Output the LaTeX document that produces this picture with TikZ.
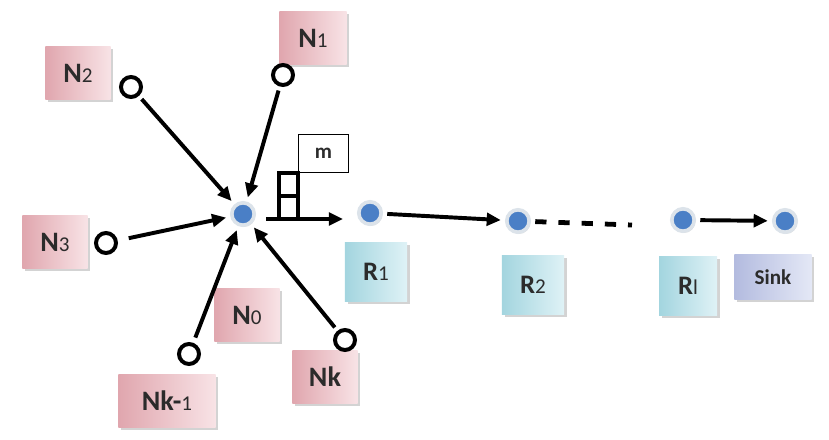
\documentclass[tikz,border=0pt]{standalone}
\usepackage{fontspec}
\setmainfont{Carlito}
\usetikzlibrary{arrows.meta, shadows}
\definecolor{pinkdark}{HTML}{E0A6AE}
\definecolor{pinklight}{HTML}{F8E3E6}
\definecolor{cyandark}{HTML}{A3D5DF}
\definecolor{cyanlight}{HTML}{DFF2F6}
\definecolor{lavdark}{HTML}{B3BBDF}
\definecolor{lavlight}{HTML}{E4E8F6}
\definecolor{dotblue}{HTML}{4A7FC6}
\definecolor{halo}{HTML}{DCE3EA}
\definecolor{ink}{HTML}{2B2B2B}
\newcommand{\idx}[1]{{\fontsize{15}{15}\selectfont\mdseries #1}}

\begin{document}
\begin{tikzpicture}[x=0.025cm,y=-0.025cm,
  nbox/.style={rectangle,minimum width=1.63cm,minimum height=1.33cm,inner sep=0pt,
    left color=pinkdark,right color=pinklight,text=ink,font=\fontsize{20}{22}\selectfont\bfseries,
    drop shadow={shadow xshift=2pt,shadow yshift=-2pt,opacity=0.35}},
  rbox/.style={nbox,left color=cyandark,right color=cyanlight,minimum width=1.55cm,minimum height=1.48cm,
    font=\fontsize{19}{21}\selectfont\bfseries},
  sbox/.style={nbox,left color=lavdark,right color=lavlight,minimum width=1.93cm,minimum height=1.13cm,
    font=\fontsize{15}{17}\selectfont\bfseries},
  src/.style={circle,draw=black,line width=2.8pt,fill=white,minimum size=0.5cm,inner sep=0pt},
  dot/.style={circle,fill=dotblue,draw=halo,line width=2.6pt,minimum size=0.56cm,inner sep=0pt,
    drop shadow={shadow xshift=0.8pt,shadow yshift=-1.2pt,opacity=0.3}},
  cell/.style={rectangle,draw=black,line width=2.8pt,minimum width=0.475cm,minimum height=0.575cm,
    inner sep=0pt,outer sep=0pt},
  mbox/.style={rectangle,draw=black,line width=0.7pt,minimum width=1.25cm,minimum height=0.95cm,
    font=\fontsize{15}{15}\selectfont\bfseries,text=ink},
  arr/.style={-{Triangle[length=10pt,width=9pt]},line width=2.8pt,draw=black,shorten <=3pt,shorten >=3pt},
  dashline/.style={line width=3.4pt,dash pattern=on 8pt off 8.5pt,draw=black}]
  \useasboundingbox (0,0) rectangle (829,440);
  % labels
  \node[nbox] (n2) at (78,73) {N\idx{2}};
  \node[nbox,minimum width=1.68cm] (n1) at (313,38) {N\idx{1}};
  \node[nbox] (n3) at (55,242) {N\idx{3}};
  \node[nbox] (n0) at (247,315) {N\idx{0}};
  \node[nbox,minimum width=2.43cm] (nk1) at (167,401) {Nk-\idx{1}};
  \node[nbox] (nk) at (325,377) {Nk};
  \node[rbox] (r1box) at (376,272) {R\idx{1}};
  \node[rbox] (r2box) at (533,285) {R\idx{2}};
  \node[rbox,minimum width=1.45cm] (rlbox) at (688,286) {R\idx{l}};
  \node[sbox] (sinkbox) at (773,277) {Sink};
  % sources
  \node[src] (s2) at (131,87) {};
  \node[src] (s1) at (283,75) {};
  \node[src] (s3) at (106,243) {};
  \node[src] (sk1) at (189,354) {};
  \node[src] (sk) at (345,340) {};
  % relays
  \node[dot] (c) at (243,214) {};
  \node[dot] (r1) at (370,213) {};
  \node[dot] (r2) at (518,221) {};
  \node[dot] (rl) at (683,220) {};
  \node[dot] (sink) at (785,221) {};
  % queue
  \coordinate (qout) at (266,219);
  \node[cell,anchor=south west] (q2) at (279,219) {};
  \node[cell,anchor=south] (q1) at (q2.north) {};
  \node[mbox,anchor=south west] (m) at (q1.north east) {m};
  % links
  \draw[arr] (s2) -- (c);
  \draw[arr] (s1) -- (c);
  \draw[arr,shorten <=8pt] (s3) -- (c);
  \draw[arr,shorten <=4pt] (sk1) -- (c);
  \draw[arr] (sk) -- (c);
  \draw[arr,shorten <=0pt,shorten >=10pt] (qout) -- (r1.west |- qout);
  \draw[arr] (r1) -- (r2);
  \coordinate (dend) at (632,225);
  \draw[dashline,shorten <=3pt] (r2) -- (dend);
  \draw[arr] (rl) -- (sink);
\end{tikzpicture}
\end{document}
